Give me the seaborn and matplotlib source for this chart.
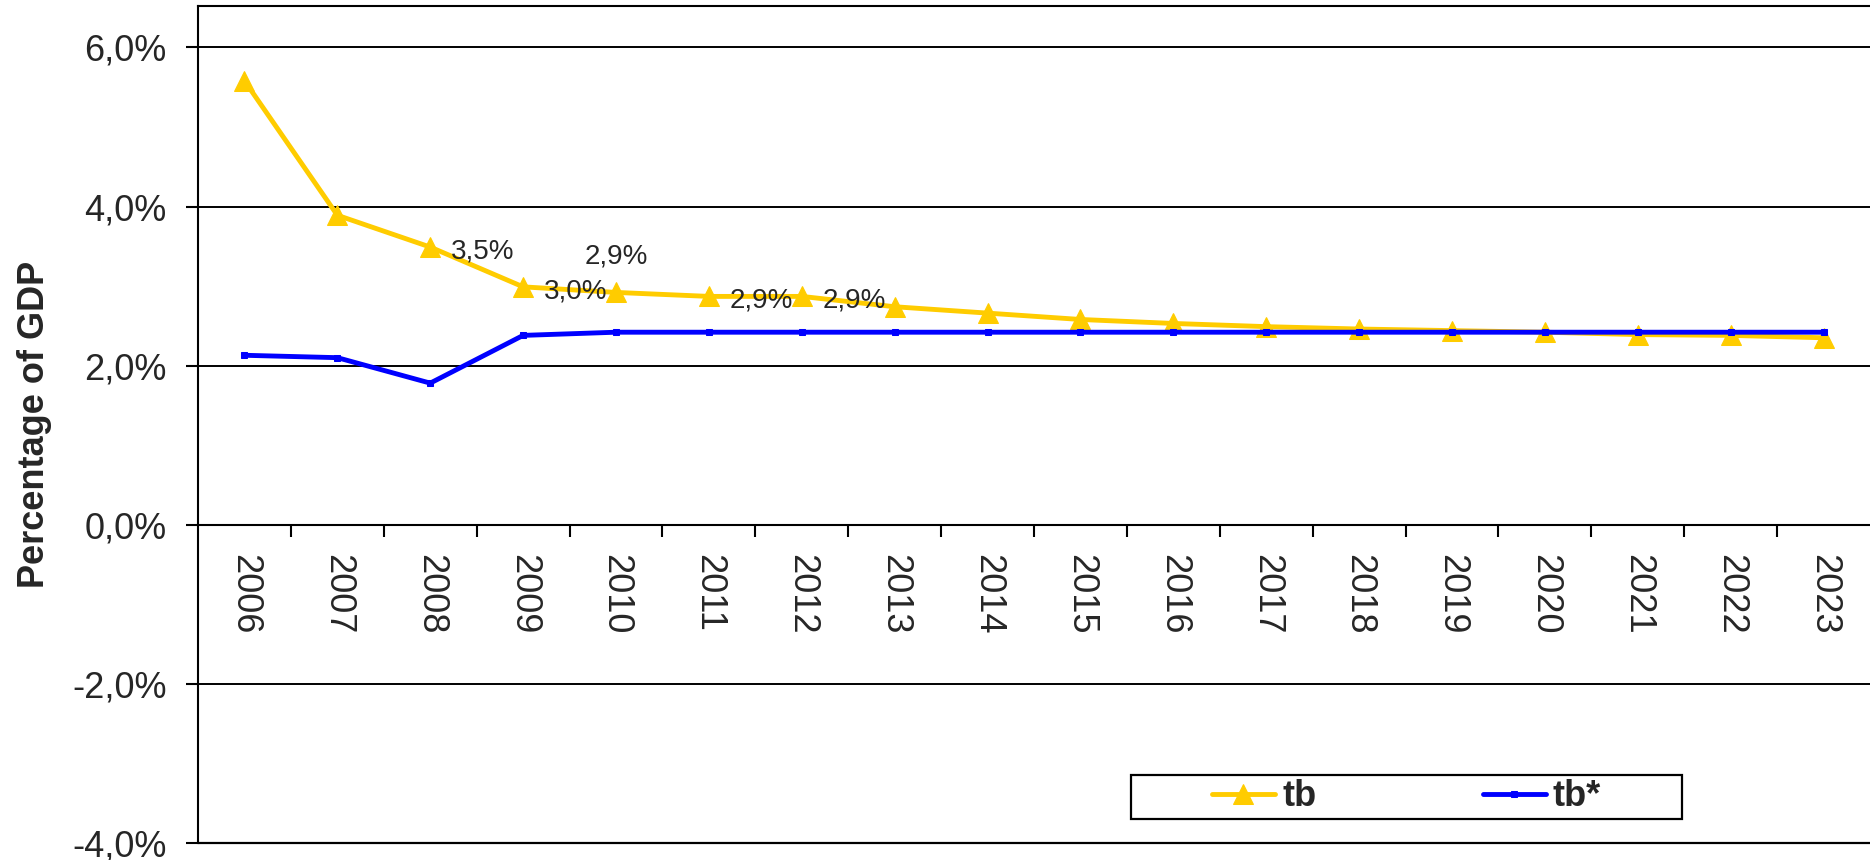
import matplotlib.pyplot as plt
import matplotlib.patches as mpatches
import numpy as np
import pandas as pd
import seaborn as sns

# values (percent of GDP)
years = list(range(2006, 2024))
tb = [5.58, 3.89, 3.49, 2.99, 2.92, 2.87, 2.87, 2.74, 2.66, 2.58,
      2.53, 2.49, 2.46, 2.44, 2.42, 2.39, 2.38, 2.35]
tb_star = [2.13, 2.10, 1.78, 2.38, 2.42, 2.42, 2.42, 2.42, 2.42, 2.42,
           2.42, 2.42, 2.42, 2.42, 2.42, 2.42, 2.42, 2.42]

y_ticks = [-4, -2, 0, 2, 4, 6]
y_tick_labels = ['-4,0%', '-2,0%', '0,0%', '2,0%', '4,0%', '6,0%']

# which tb points carry a value label, and where it sits
label_years = [2008, 2009, 2010, 2011, 2012]
label_places = ['right', 'right', 'above', 'right', 'right']

df = pd.DataFrame({'year': years, 'tb': tb, 'tb_star': tb_star})

sns.set_style('white')
plt.rcParams['font.family'] = ['Liberation Sans', 'DejaVu Sans']

fig, ax = plt.subplots(figsize=(18.7, 8.6), dpi=100)
fig.subplots_adjust(left=0.1059, right=1.0, top=0.993, bottom=0.0198)

sns.lineplot(data=df, x='year', y='tb', ax=ax, color='#FFCC00', lw=3.5,
             marker='^', markersize=14, markeredgecolor='#FFCC00', label='tb', zorder=3)
sns.lineplot(data=df, x='year', y='tb_star', ax=ax, color='#0000FF', lw=3.5,
             marker='s', markersize=5, markeredgecolor='#0000FF', label='tb*', zorder=4)

# value labels
for yr, place in zip(label_years, label_places):
    v = df.loc[df['year'] == yr, 'tb'].iloc[0]
    txt = f'{v:.1f}'.replace('.', ',') + '%'
    if place == 'right':
        ax.annotate(txt, (yr, v), xytext=(15, -3), textcoords='offset points',
                    ha='left', va='center', fontsize=20, zorder=5)
    else:
        ax.annotate(txt, (yr, v), xytext=(0, 26), textcoords='offset points',
                    ha='center', va='center', fontsize=20, zorder=5)

ax.set_xlim(years[0] - 0.5, years[-1] + 0.5)
ax.set_ylim(-4, 6.52)

ax.set_yticks(y_ticks)
ax.set_yticklabels(y_tick_labels)
ax.tick_params(axis='y', which='major', direction='out', length=8.6, width=1.5,
               pad=14, labelsize=26, left=True, color='black')

# category axis sitting on the 0% line
ax.spines['bottom'].set_position(('data', 0))
ax.set_xticks(years)
ax.set_xticklabels([str(y) for y in years], rotation=-90)
ax.set_xticks([y + 0.5 for y in years[:-1]], minor=True)
ax.tick_params(axis='x', which='major', length=0, pad=21, labelsize=26)
ax.tick_params(axis='x', which='minor', direction='out', length=8.6, width=1.5,
               bottom=True, color='black')

ax.grid(axis='y', color='black', lw=1.4)
ax.grid(axis='x', visible=False)
ax.set_axisbelow(True)
ax.axhline(-4, color='black', lw=1.6, clip_on=False, zorder=1)

for side in ['left', 'top', 'bottom']:
    ax.spines[side].set_color('black')
    ax.spines[side].set_linewidth(1.5)
ax.spines['right'].set_visible(False)

ax.set_xlabel('')
ax.set_ylabel('Percentage of GDP', fontsize=26, fontweight='bold', va='center')
ax.yaxis.set_label_coords(-0.098, 0.5)

# legend inside a plain box
ax.legend(loc='center', bbox_to_anchor=(0.7228, 0.055), ncol=2, frameon=False,
          prop={'weight': 'bold', 'size': 26}, handlelength=1.75,
          handletextpad=0.2, columnspacing=4.6)
ax.add_patch(mpatches.Rectangle((0.558, 0.0287), 0.3296, 0.0526, transform=ax.transAxes,
                                fill=False, edgecolor='black', lw=1.6, zorder=6))

fig.savefig('out.png', dpi=100)
